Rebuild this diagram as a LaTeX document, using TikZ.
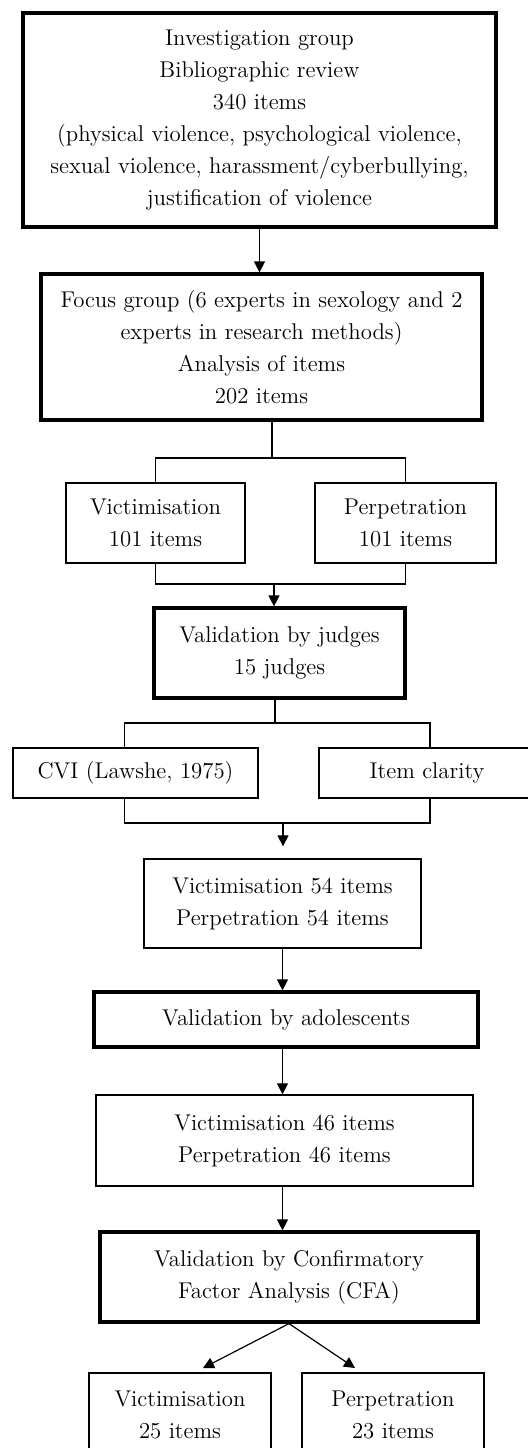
\documentclass[tikz,border=0pt]{standalone}
\usetikzlibrary{arrows.meta}

\tikzset{
  plainbox/.style={draw, line width=0.65pt, inner sep=0pt, align=center, font=\fontsize{11.4}{16}\selectfont},
  boldbox/.style={plainbox, line width=1.6pt},
  arr/.style={-{Triangle[length=5.5pt,width=5.5pt]}, line width=0.6pt},
  lin/.style={line width=0.6pt}
}

\begin{document}
\begin{tikzpicture}[x=0.5pt, y=-0.5pt]
\useasboundingbox (0,0) rectangle (527,1448);

\node[boldbox, minimum width=236.5pt, minimum height=107pt] (inv) at (259.5,120){Investigation group\\Bibliographic review\\340 items\\(physical violence, psychological violence,\\sexual violence, harassment/cyberbullying,\\justification of violence};
\node[boldbox, minimum width=220.5pt, minimum height=73pt] (focus) at (261.5,347){Focus group (6 experts in sexology and 2\\experts in research methods)\\Analysis of items\\202 items};

\draw[arr](inv.south) -- (inv.south |- focus.north);

\node[plainbox, minimum width=89.5pt, minimum height=40pt] (vicA) at (155.5,523){Victimisation\\101 items};
\node[plainbox, minimum width=90.5pt, minimum height=40pt] (perA) at (405.5,523){Perpetration\\101 items};

\coordinate (fsplit) at (272,458);
\draw[lin](focus.south -| fsplit) -- (fsplit);
\draw[lin](vicA.north) |- (fsplit) -| (perA.north);

\node[boldbox, minimum width=125.5pt, minimum height=45pt] (judges) at (279.5,653){Validation by judges\\15 judges};

\coordinate (jmerge) at (274,584);
\draw[lin](vicA.south) |- (jmerge) -| (perA.south);
\draw[arr](jmerge) -- (jmerge |- judges.north);

\node[plainbox, minimum width=122.5pt, minimum height=25pt] (cvi) at (135.5,773){CVI (Lawshe, 1975)};
\node[plainbox, minimum width=108pt, minimum height=25pt] (clarity) at (427,773){Item clarity};

\coordinate (jsplit) at (275,723);
\draw[lin](judges.south -| jsplit) -- (jsplit);
\draw[lin]([xshift=-5.5pt]cvi.north) |- (jsplit) -| ([xshift=1.5pt]clarity.north);

\node[plainbox, minimum width=138.5pt, minimum height=44.5pt] (items54) at (282.5,903.5){Victimisation 54 items\\Perpetration 54 items};

\coordinate (cmerge) at (283,823);
\draw[lin]([xshift=-5.5pt]cvi.south) |- (cmerge) -| ([xshift=1.5pt]clarity.south);
\draw[arr, shorten >=6pt](cmerge) -- (cmerge |- items54.north);

\node[boldbox, minimum width=192pt, minimum height=27.5pt] (adol) at (286,1019.5){Validation by adolescents};
\node[plainbox, minimum width=188.5pt, minimum height=45.5pt] (items46) at (284.5,1140.5){Victimisation 46 items\\Perpetration 46 items};
\node[boldbox, minimum width=189pt, minimum height=45pt] (cfa) at (289,1277){Validation by Confirmatory\\Factor Analysis (CFA)};

\draw[arr](items54.south) -- (items54.south |- adol.north);
\draw[arr](adol.south -| items54.south) -- (items54.south |- items46.north);
\draw[arr](items46.south -| items54.south) -- (items54.south |- cfa.north);

\node[plainbox, minimum width=91pt, minimum height=42pt] (vicB) at (180,1415){Victimisation\\25 items};
\node[plainbox, minimum width=91pt, minimum height=42pt] (perB) at (393,1415){Perpetration\\23 items};

\coordinate (vtip) at (203,1368);
\coordinate (ptip) at (355,1368);
\draw[arr](cfa.south) -- (vtip);
\draw[arr](cfa.south) -- (ptip);

\end{tikzpicture}
\end{document}
